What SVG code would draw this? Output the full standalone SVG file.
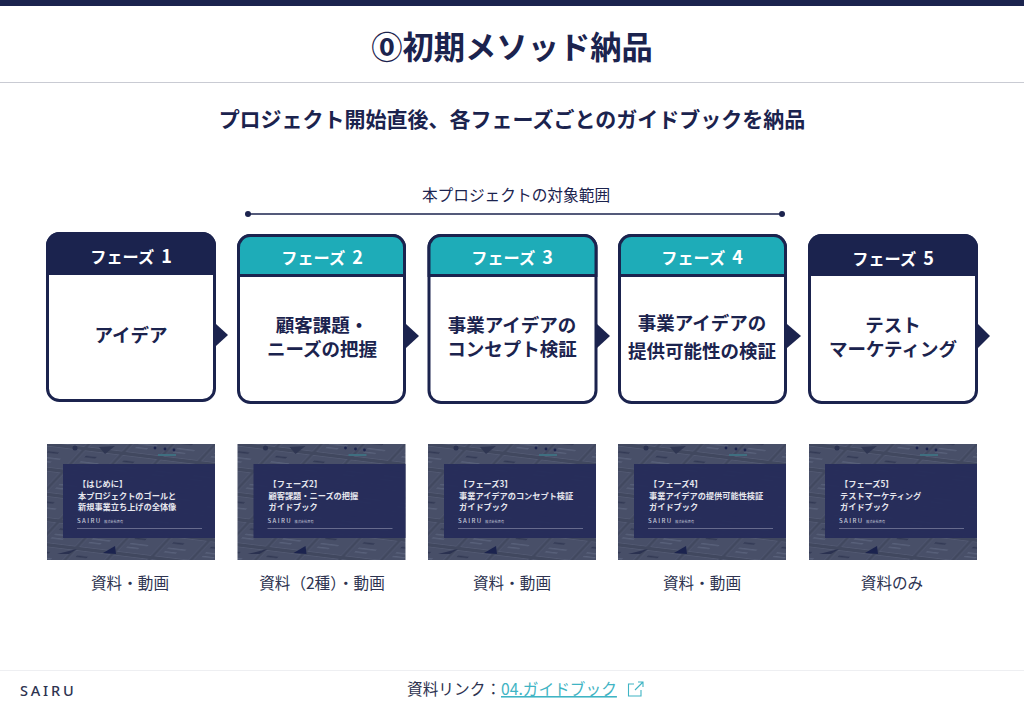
<svg xmlns="http://www.w3.org/2000/svg" width="1024" height="708" viewBox="0 0 1024 708">
<style>
text{font-family:"Noto Sans CJK JP","Noto Sans",sans-serif;fill:#1b234e}
.hd{font-size:16.200px;font-weight:700;fill:#fff;text-anchor:middle}
.bd{font-size:18.500px;font-weight:700;text-anchor:middle}
.cap{font-size:15.600px;fill:#2d3350;text-anchor:middle}
.tt{font-size:8.200px;font-weight:700;fill:#e6e7ee}
.lg{font-size:6px;font-weight:500;fill:#c9ccdb;letter-spacing:1.400px}
.lg2{font-size:3.200px;fill:#c9ccdb}
.frame{fill:#fff;stroke:#1b234e;stroke-width:3}
.navy{fill:#1b234e}
.teal{fill:#1eacb8;stroke:#1b234e;stroke-width:3}
.panel{fill:#262c5a;opacity:.97}
.rule{stroke:#777b9a;stroke-width:.8}
</style>
<defs>
<pattern id="tiles" width="38" height="25" patternUnits="userSpaceOnUse" patternTransform="rotate(7) skewX(-36)">
<rect width="38" height="25" fill="#41485f"/>
<rect x="2" y="2" width="34" height="21" fill="#484f68" stroke="#565d77" stroke-width=".6"/>
<rect x="7" y="7" width="11" height="1.500" fill="#333a55"/>
<rect x="7" y="13" width="18" height="1.200" fill="#5a627c"/>
<rect x="7" y="17" width="12" height="1.200" fill="#5a627c"/>
</pattern>
<g id="thumbBg">
<rect x="0" y="0" width="168" height="116" fill="url(#tiles)"/>
<path d="M56 109 L68 102 L69 110Z" fill="#1b234e"/>
<path d="M10 110 L30 105 L22 110Z" fill="#2a3150"/>
<path d="M52 3 L68 2 L58 10Z" fill="#2f3652"/>
<circle cx="28" cy="4" r="2.500" fill="#2a3150"/>
<circle cx="108" cy="4" r="1.400" fill="#1b234e"/><circle cx="118" cy="5" r="1.400" fill="#1b234e"/><circle cx="127" cy="6" r="1.400" fill="#1b234e"/>
<rect x="111" y="10" width="18" height="2" fill="#3f6f80"/>
<rect x="16" y="20" width="152" height="74" class="panel"/>
<line x1="30" y1="84.500" x2="155" y2="84.500" class="rule"/>
<text x="30" y="79" class="lg">SAIRU</text>
<text x="57" y="79" class="lg2">株式会社声有</text>
</g>
</defs>

<rect width="1024" height="708" fill="#fff"/>
<rect width="1024" height="6" fill="#1b234e"/>
<g id="title"><text x="512" y="59" text-anchor="middle" font-size="31.300" font-weight="700">⓪初期メソッド納品</text></g>
<line x1="0" y1="82.500" x2="1024" y2="82.500" stroke="#c9cbd3"/>
<text x="512" y="127" text-anchor="middle" font-size="21" font-weight="700">プロジェクト開始直後、各フェーズごとのガイドブックを納品</text>

<g id="scope">
<text x="516" y="201" text-anchor="middle" font-size="15.700">本プロジェクトの対象範囲</text>
<line x1="248" y1="214" x2="782" y2="214" stroke="#1b234e" stroke-width="1.500"/>
<circle cx="248" cy="214" r="3" class="navy"/><circle cx="782" cy="214" r="3" class="navy"/>
</g>

<g id="connectors">
<path class="navy" d="M216 324 L228 335 L216 346Z"/>
<path class="navy" d="M406 324 L419 336 L406 348Z"/>
<path class="navy" d="M597 324 L610 336 L597 348Z"/>
<path class="navy" d="M787 324 L801 336 L787 348Z"/>
<path class="navy" d="M978 324 L990 336 L978 348Z"/>
</g>

<g id="phase1">
<rect x="47.500" y="233.500" width="167" height="167" rx="12" class="frame"/>
<path class="navy" d="M46 275 V246 A14 14 0 0 1 60 232 H202 A14 14 0 0 1 216 246 V275Z"/>
<text x="131" y="263" class="hd">フェーズ<tspan font-size="18" dx="7">1</tspan></text>
<text x="131" y="342" class="bd">アイデア</text>
</g>
<g id="phase2">
<rect x="238.500" y="235.500" width="166" height="167" rx="12" class="frame"/>
<path class="teal" d="M238.500 275.500 V248 A12 12 0 0 1 250.500 235.500 H392.500 A12 12 0 0 1 404.500 248 V275.500Z"/>
<text x="322" y="264" class="hd">フェーズ<tspan font-size="18" dx="7">2</tspan></text>
<text x="322" y="332" class="bd">顧客課題・</text>
<text x="322" y="356" class="bd">ニーズの把握</text>
</g>
<g id="phase3">
<rect x="429" y="235.500" width="167" height="167" rx="12" class="frame"/>
<path class="teal" d="M429 275.500 V248 A12 12 0 0 1 441 235.500 H584 A12 12 0 0 1 596 248 V275.500Z"/>
<text x="512" y="264" class="hd">フェーズ<tspan font-size="18" dx="7">3</tspan></text>
<text x="512" y="332" class="bd">事業アイデアの</text>
<text x="512" y="356" class="bd">コンセプト検証</text>
</g>
<g id="phase4">
<rect x="619.500" y="235.500" width="166" height="167" rx="12" class="frame"/>
<path class="teal" d="M619.500 275.500 V248 A12 12 0 0 1 631.500 235.500 H773.500 A12 12 0 0 1 785.500 248 V275.500Z"/>
<text x="702" y="264" class="hd">フェーズ<tspan font-size="18" dx="7">4</tspan></text>
<text x="702" y="330" class="bd">事業アイデアの</text>
<text x="702" y="358" class="bd">提供可能性の検証</text>
</g>
<g id="phase5">
<rect x="809.500" y="235.500" width="167" height="167" rx="12" class="frame"/>
<path class="navy" d="M808 276 V248 A14 14 0 0 1 822 234 H964 A14 14 0 0 1 978 248 V276Z"/>
<text x="893" y="265" class="hd">フェーズ<tspan font-size="18" dx="7">5</tspan></text>
<text x="893" y="332" class="bd">テスト</text>
<text x="893" y="356" class="bd">マーケティング</text>
</g>

<g id="guide1" transform="translate(47 444)">
<use href="#thumbBg"/>
<text x="31" y="43" class="tt">【はじめに】</text>
<text x="31" y="54.500" class="tt">本プロジェクトのゴールと</text>
<text x="31" y="66" class="tt">新規事業立ち上げの全体像</text>
</g>
<text x="130" y="589" class="cap">資料・動画</text>
<g id="guide2" transform="translate(237.500 444)">
<use href="#thumbBg"/>
<text x="31" y="43" class="tt">【フェーズ2】</text>
<text x="31" y="54.500" class="tt">顧客課題・ニーズの把握</text>
<text x="31" y="66" class="tt">ガイドブック</text>
</g>
<text x="322" y="589" class="cap">資料（2種）・動画</text>
<g id="guide3" transform="translate(428 444)">
<use href="#thumbBg"/>
<text x="31" y="43" class="tt">【フェーズ3】</text>
<text x="31" y="54.500" class="tt">事業アイデアのコンセプト検証</text>
<text x="31" y="66" class="tt">ガイドブック</text>
</g>
<text x="512" y="589" class="cap">資料・動画</text>
<g id="guide4" transform="translate(618 444)">
<use href="#thumbBg"/>
<text x="31" y="43" class="tt">【フェーズ4】</text>
<text x="31" y="54.500" class="tt">事業アイデアの提供可能性検証</text>
<text x="31" y="66" class="tt">ガイドブック</text>
</g>
<text x="702" y="589" class="cap">資料・動画</text>
<g id="guide5" transform="translate(809 444)">
<use href="#thumbBg"/>
<text x="31" y="43" class="tt">【フェーズ5】</text>
<text x="31" y="54.500" class="tt">テストマーケティング</text>
<text x="31" y="66" class="tt">ガイドブック</text>
</g>
<text x="892" y="589" class="cap">資料のみ</text>

<g id="footer">
<line x1="0" y1="670.500" x2="1024" y2="670.500" stroke="#eeeff2"/>
<text x="20" y="696" font-size="14.500" font-weight="500" letter-spacing="2.800" style="font-family:'Noto Sans',sans-serif;fill:#2d3350">SAIRU</text>
<text x="407" y="695" font-size="15.700" style="fill:#2d3350">資料リンク：</text>
<text x="501" y="695" font-size="15.700" text-decoration="underline" style="fill:#3fb4c4">04.ガイドブック</text>
<path d="M634 684 H628.500 V696 H641 V690 M635 690 L643 682 M638 682 H643 V687" fill="none" stroke="#3fb4c4" stroke-width="1.100"/>
</g>
</svg>
